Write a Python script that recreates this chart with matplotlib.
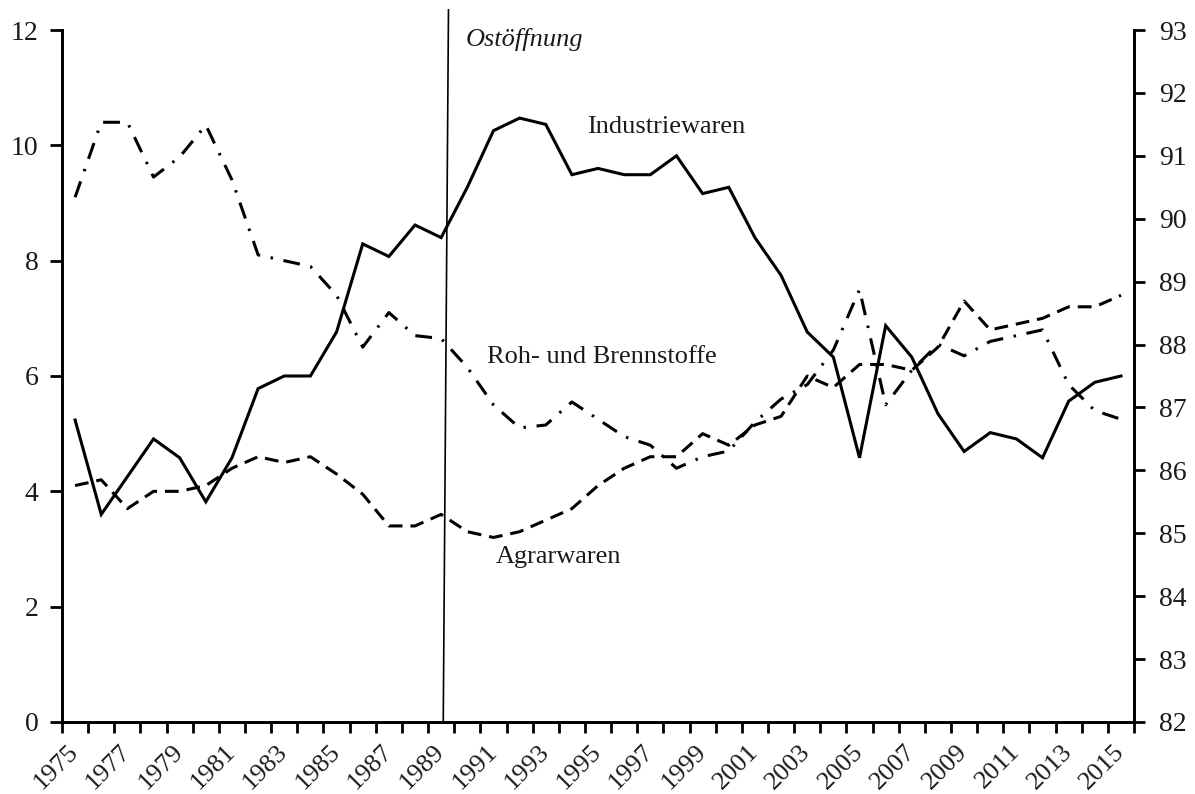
import matplotlib
matplotlib.use('Agg')
import matplotlib.pyplot as plt
from matplotlib.ticker import FixedLocator

# Daten (Anteile in %)
jahre = list(range(1975, 2016))
industriewaren = [86.8, 85.3, 85.9, 86.5, 86.2, 85.5, 86.2, 87.3, 87.5, 87.5,
                  88.2, 89.6, 89.4, 89.9, 89.7, 90.5, 91.4, 91.6, 91.5, 90.7,
                  90.8, 90.7, 90.7, 91.0, 90.4, 90.5, 89.7, 89.1, 88.2, 87.8,
                  86.2, 88.3, 87.8, 86.9, 86.3, 86.6, 86.5, 86.2, 87.1, 87.4,
                  87.5]
agrarwaren = [4.1, 4.2, 3.7, 4.0, 4.0, 4.1, 4.4, 4.6, 4.5, 4.6,
              4.3, 3.95, 3.4, 3.4, 3.6, 3.3, 3.2, 3.3, 3.5, 3.7,
              4.1, 4.4, 4.6, 4.6, 5.0, 4.8, 5.15, 5.3, 6.0, 5.8,
              6.2, 6.2, 6.1, 6.5, 7.3, 6.8, 6.9, 7.0, 7.2, 7.2,
              7.4]
rohstoffe = [9.1, 10.4, 10.4, 9.45, 9.8, 10.35, 9.4, 8.1, 8.0, 7.9,
             7.4, 6.5, 7.1, 6.7, 6.65, 6.15, 5.5, 5.1, 5.15, 5.55,
             5.25, 4.95, 4.8, 4.4, 4.6, 4.7, 5.2, 5.6, 5.85, 6.45,
             7.5, 5.5, 6.1, 6.55, 6.35, 6.6, 6.7, 6.8, 5.85, 5.4,
             5.25]
jahr_labels = [str(j) for j in jahre[::2]]

plt.rcParams['font.family'] = ['Liberation Serif', 'DejaVu Serif']

fig = plt.figure(figsize=(11.95, 7.94), dpi=100)
ax = fig.add_axes([0.0519, 0.0907, 0.8971, 0.8715])
ax2 = ax.twinx()

# Linien
ax.plot(jahre, agrarwaren, color='black', lw=2.2, dashes=(4.5, 2.6))
ax.plot(jahre, rohstoffe, color='black', lw=2.2, dashes=(5.5, 3.5, 0.8, 3.5))
ax2.plot(jahre, industriewaren, color='black', lw=2.2, solid_joinstyle='miter')

# Achsen
ax.set_xlim(jahre[0] - 0.5, jahre[-1] + 0.5)
ax.set_ylim(0, 12)
ax2.set_ylim(82, 93)
ax.set_yticks(range(0, 13, 2))
ax2.set_yticks(range(82, 94))

ax.set_xticks(jahre[::2])
ax.set_xticklabels(jahr_labels, rotation=45, ha='right', va='center',
                   rotation_mode='anchor', fontsize=19, color='#1a1a1a')
ax.xaxis.set_minor_locator(FixedLocator([j - 0.5 for j in jahre] + [jahre[-1] + 0.5]))
ax.tick_params(axis='x', which='major', length=0, pad=19)
ax.tick_params(axis='x', which='minor', length=8, width=2, direction='out')
ax.tick_params(axis='y', length=9, width=2, direction='out', labelsize=20,
               pad=8, labelcolor='#1a1a1a')
ax2.tick_params(axis='y', length=8, width=2, direction='out', labelsize=20,
                pad=10, labelcolor='#1a1a1a')

for a in (ax, ax2):
    a.spines['top'].set_visible(False)
    for s in ('left', 'right', 'bottom'):
        a.spines[s].set_linewidth(2)

# Ostöffnung
ax.plot([1989.08, 1989.28], [0, 12.35], color='black', lw=1.2, clip_on=False)
ax.text(1989.95, 11.83, 'Ostöffnung', fontsize=19, style='italic',
        va='center', ha='left', color='#1a1a1a')

# Beschriftungen
ax.text(1994.58, 10.32, 'Industriewaren', fontsize=19, va='center', ha='left', color='#1a1a1a')
ax.text(1990.76, 6.33, 'Roh- und Brennstoffe', fontsize=19, va='center', ha='left', color='#1a1a1a')
ax.text(1991.1, 2.86, 'Agrarwaren', fontsize=19, va='center', ha='left', color='#1a1a1a')

plt.savefig('out.png', dpi=100)
